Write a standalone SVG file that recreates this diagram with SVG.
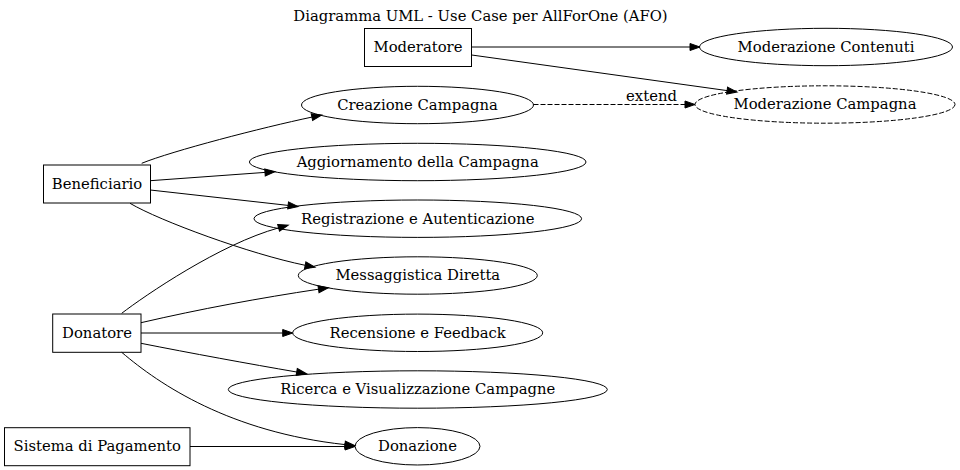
<svg xmlns="http://www.w3.org/2000/svg" width="960" height="470" viewBox="0 0 960 470">
<style>
  text { font-family: "DejaVu Serif", "Liberation Serif", serif; font-size: 14.8px; fill: #000; text-anchor: middle; }
  .actor rect { fill: none; stroke: #000; stroke-width: 1; }
  .uc ellipse { fill: none; stroke: #000; stroke-width: 1; }
  .uc.dashed ellipse { stroke-dasharray: 5,2; }
  .edges path { fill: none; stroke: #000; stroke-width: 1; marker-end: url(#arrow); }
  .edges path.dashed { stroke-dasharray: 5,2; }
</style>
<defs>
  <marker id="arrow" markerUnits="userSpaceOnUse" markerWidth="11" markerHeight="8" refX="0" refY="3.5" orient="auto" viewBox="0 0 11 8" overflow="visible">
    <path d="M0,0 L10,3.5 L0,7 Z" fill="#000" stroke="#000" stroke-width="1"/>
  </marker>
</defs>
<rect x="0" y="0" width="960" height="470" fill="#fff"/>
<text id="title" x="480.5" y="20.5">Diagramma UML - Use Case per AllForOne (AFO)</text>

<g id="Moderatore" class="actor"><rect x="364.5" y="28.5" width="107" height="38"/><text x="418" y="52">Moderatore</text></g>
<g id="Beneficiario" class="actor"><rect x="43.5" y="165" width="107" height="38"/><text x="97" y="188.8">Beneficiario</text></g>
<g id="Donatore" class="actor"><rect x="52.7" y="314" width="88.3" height="38.3"/><text x="97" y="338">Donatore</text></g>
<g id="SistemaPagamento" class="actor"><rect x="4.5" y="427.7" width="185.5" height="38"/><text x="97.2" y="451.3">Sistema di Pagamento</text></g>

<g id="ModerazioneContenuti" class="uc"><ellipse cx="826" cy="47" rx="126.5" ry="18.7"/><text x="826" y="51.8">Moderazione Contenuti</text></g>
<g id="ModerazioneCampagna" class="uc dashed"><ellipse cx="825" cy="104.5" rx="130" ry="18.7"/><text x="825" y="109.3">Moderazione Campagna</text></g>
<g id="CreazioneCampagna" class="uc"><ellipse cx="417.5" cy="105" rx="116" ry="18.7"/><text x="417.5" y="109.8">Creazione Campagna</text></g>
<g id="Aggiornamento" class="uc"><ellipse cx="417.7" cy="162" rx="168.3" ry="18.7"/><text x="417.7" y="166.8">Aggiornamento della Campagna</text></g>
<g id="Registrazione" class="uc"><ellipse cx="417.8" cy="218.7" rx="163.8" ry="18.7"/><text x="417.8" y="223.5">Registrazione e Autenticazione</text></g>
<g id="Messaggistica" class="uc"><ellipse cx="417.8" cy="275.5" rx="119.5" ry="18.7"/><text x="417.8" y="280.3">Messaggistica Diretta</text></g>
<g id="Recensione" class="uc"><ellipse cx="417.7" cy="332.8" rx="125" ry="18.7"/><text x="417.7" y="337.6">Recensione e Feedback</text></g>
<g id="Ricerca" class="uc"><ellipse cx="417.8" cy="389.5" rx="189.5" ry="18.7"/><text x="417.8" y="394.3">Ricerca e Visualizzazione Campagne</text></g>
<g id="Donazione" class="uc"><ellipse cx="417.5" cy="446.3" rx="62.5" ry="18.7"/><text x="417.5" y="451.1">Donazione</text></g>

<g class="edges" id="connectors">
  <path id="e1" d="M471.7,47 L690,47"/>
  <path id="e2" d="M471.7,55 L727.1,90.6"/>
  <path id="e3" class="dashed" d="M533.5,104.5 L685,104.5"/>
  <path id="e4" d="M141.7,163.3 C172,151 262,127.6 311.9,117.1"/>
  <path id="e5" d="M150.3,180.7 L265,172.4"/>
  <path id="e6" d="M150.3,190 L288.1,205.4"/>
  <path id="e7" d="M130,203.3 C160,221 250,254 305.2,265.3"/>
  <path id="e8" d="M121.7,313.3 C145,295.5 220,244 278.6,227.9"/>
  <path id="e9" d="M141,322.7 C200,309 260,298 318.5,289.2"/>
  <path id="e10" d="M141,333 L282.7,333"/>
  <path id="e11" d="M141,343.3 C190,353 250,364 296.7,372"/>
  <path id="e12" d="M121.7,352.3 C160,385 230,432 345,444.6"/>
  <path id="e13" d="M190,446.5 L345,446.5"/>
  <text x="651.5" y="100.5">extend</text>
</g>
</svg>
